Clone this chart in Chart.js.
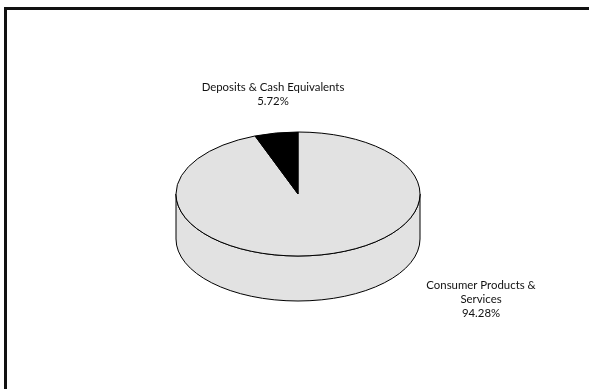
<!DOCTYPE html>
<html>
<head>
<meta charset="utf-8">
<script src="https://cdn.jsdelivr.net/npm/chart.js@4.4.0/dist/chart.umd.min.js"></script>
<style>
  html, body { margin: 0; padding: 0; background: #fff; overflow: hidden; }
  #wrap { position: relative; width: 589px; height: 389px; overflow: hidden; }
  #frame {
    position: absolute; left: 4px; top: 7px; width: 700px; height: 500px;
    border-left: 3px solid #111; border-top: 3px solid #111;
  }
  canvas { position: absolute; left: 0; top: 0; }
</style>
</head>
<body>
<div id="wrap">
  <div id="frame"></div>
  <canvas id="pieChart" width="589" height="389"></canvas>
</div>
<script>
const categories = [["Consumer Products &", "Services"], ["Deposits & Cash Equivalents"]];
const shares = [94.28, 5.72];

const SLICE_COLORS = ["#e2e2e2", "#000000"];
const SIDE_COLOR = "#e2e2e2";
const TILT = 62 / 122;   // vertical squash of the disc
const DEPTH = 45;        // thickness of the disc in px
const LABEL_FONT = "11.4px Lato, 'Open Sans', sans-serif";
const LINE_HEIGHT = 14;
// centre of first label line, relative to pie centre
const LABEL_OFFSETS = [
  { dx: 183, dy: 91 },
  { dx: -25, dy: -107 }
];

function squash(ctx, cx, cy) {
  ctx.translate(cx, cy);
  ctx.scale(1, TILT);
  ctx.translate(-cx, -cy);
}

const pie3d = {
  id: "pie3d",
  beforeDatasetsDraw(chart) {
    const ctx = chart.ctx;
    const first = chart.getDatasetMeta(0).data[0];
    const { x, y, outerRadius: r } = first;
    const d = DEPTH / TILT;

    // side wall of the disc
    ctx.save();
    squash(ctx, x, y);
    ctx.beginPath();
    ctx.moveTo(x - r, y);
    ctx.lineTo(x - r, y + d);
    ctx.arc(x, y + d, r, Math.PI, 0, true);
    ctx.lineTo(x + r, y);
    ctx.arc(x, y, r, 0, Math.PI, false);
    ctx.closePath();
    ctx.restore();
    ctx.fillStyle = SIDE_COLOR;
    ctx.fill();
    ctx.lineWidth = 1;
    ctx.strokeStyle = "#000";
    ctx.stroke();

    // squash the top face drawn by Chart.js
    ctx.save();
    squash(ctx, x, y);
  },
  afterDatasetsDraw(chart) {
    const ctx = chart.ctx;
    ctx.restore();

    const arcs = chart.getDatasetMeta(0).data;
    const { x, y } = arcs[0];

    // outlines of each slice, stroked unsquashed
    arcs.forEach(arc => {
      ctx.save();
      squash(ctx, x, y);
      ctx.beginPath();
      ctx.moveTo(x, y);
      ctx.arc(x, y, arc.outerRadius, arc.startAngle, arc.endAngle);
      ctx.closePath();
      ctx.restore();
      ctx.lineWidth = 1;
      ctx.strokeStyle = "#000";
      ctx.stroke();
    });

    // data labels
    ctx.save();
    ctx.font = LABEL_FONT;
    ctx.fillStyle = "#111";
    ctx.textAlign = "center";
    ctx.textBaseline = "middle";
    chart.data.labels.forEach((label, i) => {
      const lines = [].concat(label, chart.data.datasets[0].data[i].toFixed(2) + "%");
      const off = LABEL_OFFSETS[i];
      lines.forEach((line, k) => {
        ctx.fillText(line, x + off.dx, y + off.dy + k * LINE_HEIGHT);
      });
    });
    ctx.restore();
  }
};

new Chart(document.getElementById("pieChart"), {
  type: "pie",
  data: {
    labels: categories,
    datasets: [{
      data: shares,
      backgroundColor: SLICE_COLORS,
      borderWidth: 0,
      clip: false
    }]
  },
  options: {
    responsive: false,
    animation: false,
    layout: { padding: { left: 176, right: 169, top: 72, bottom: 73 } },
    plugins: {
      legend: { display: false },
      tooltip: { enabled: false }
    }
  },
  plugins: [pie3d]
});
</script>
</body>
</html>
